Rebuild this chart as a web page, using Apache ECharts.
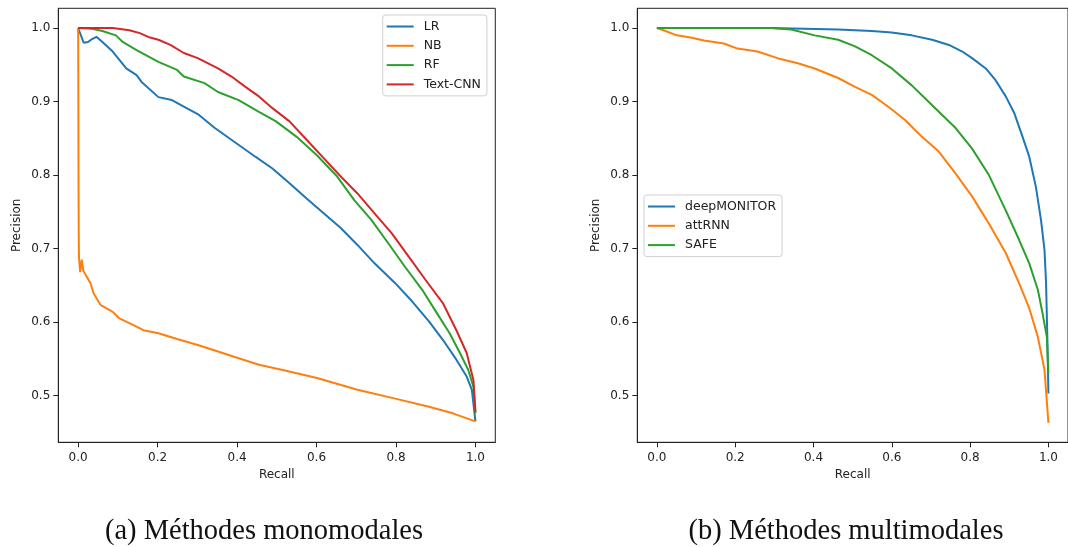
<!DOCTYPE html>
<html>
<head>
<meta charset="utf-8">
<script src="https://cdn.jsdelivr.net/npm/echarts@6/dist/echarts.min.js"></script>
<style>
  html, body { margin: 0; padding: 0; background: #fff; }
  #main { width: 1068px; height: 547px; }
</style>
</head>
<body>
<div id="main"></div>
<script>
// tick labels shared by both panels
var xTicks = [0, 0.2, 0.4, 0.6, 0.8, 1.0];
var yTicks = [0.5, 0.6, 0.7, 0.8, 0.9, 1.0];

// (a) monomodal methods
var lrX = [0, 0.0137, 0.025, 0.035, 0.046, 0.061, 0.087, 0.121, 0.147, 0.159, 0.202, 0.236, 0.266, 0.301, 0.344, 0.399, 0.446, 0.489, 0.532, 0.575, 0.618, 0.661, 0.703, 0.746, 0.798, 0.841, 0.883, 0.918, 0.952, 0.978, 0.991, 1.0];
var lrY = [1.0, 0.980, 0.981, 0.985, 0.988, 0.981, 0.968, 0.945, 0.936, 0.927, 0.906, 0.902, 0.893, 0.883, 0.864, 0.843, 0.825, 0.809, 0.789, 0.768, 0.748, 0.728, 0.705, 0.680, 0.653, 0.628, 0.601, 0.576, 0.549, 0.526, 0.508, 0.465];

var nbX = [0, 0.0005, 0.001, 0.0015, 0.002, 0.0026, 0.005, 0.009, 0.013, 0.018, 0.031, 0.039, 0.057, 0.087, 0.104, 0.147, 0.164, 0.202, 0.249, 0.301, 0.352, 0.404, 0.455, 0.515, 0.601, 0.703, 0.798, 0.883, 0.943, 1.0];
var nbY = [1.0, 0.90, 0.78, 0.72, 0.69, 0.684, 0.668, 0.685, 0.670, 0.671, 0.653, 0.639, 0.623, 0.614, 0.605, 0.594, 0.589, 0.585, 0.577, 0.569, 0.560, 0.551, 0.542, 0.535, 0.524, 0.508, 0.496, 0.485, 0.476, 0.465];

var rfX = [0, 0.035, 0.061, 0.095, 0.112, 0.147, 0.202, 0.249, 0.266, 0.318, 0.352, 0.404, 0.455, 0.498, 0.550, 0.601, 0.652, 0.695, 0.738, 0.781, 0.823, 0.866, 0.901, 0.935, 0.961, 0.982, 0.995, 1.0];
var rfY = [1.0, 0.999, 0.996, 0.990, 0.981, 0.970, 0.954, 0.943, 0.934, 0.925, 0.913, 0.902, 0.886, 0.873, 0.852, 0.827, 0.798, 0.766, 0.739, 0.707, 0.675, 0.644, 0.614, 0.585, 0.558, 0.535, 0.512, 0.476];

var cnnX = [0, 0.087, 0.129, 0.155, 0.181, 0.202, 0.232, 0.266, 0.301, 0.352, 0.386, 0.421, 0.455, 0.489, 0.532, 0.575, 0.618, 0.661, 0.703, 0.746, 0.789, 0.832, 0.875, 0.918, 0.952, 0.978, 0.995, 1.0];
var cnnY = [1.0, 1.0, 0.997, 0.993, 0.987, 0.984, 0.977, 0.966, 0.959, 0.945, 0.934, 0.920, 0.907, 0.891, 0.873, 0.848, 0.823, 0.798, 0.775, 0.748, 0.721, 0.689, 0.657, 0.626, 0.589, 0.558, 0.521, 0.478];

// (b) multimodal methods
var dmX = [0, 0.291, 0.463, 0.549, 0.600, 0.651, 0.703, 0.746, 0.780, 0.805, 0.840, 0.865, 0.891, 0.913, 0.934, 0.951, 0.968, 0.981, 0.990, 0.994, 0.997, 1.0];
var dmY = [1.0, 1.0, 0.998, 0.996, 0.994, 0.990, 0.984, 0.977, 0.968, 0.959, 0.945, 0.929, 0.907, 0.884, 0.852, 0.825, 0.784, 0.739, 0.698, 0.653, 0.585, 0.503];

var attX = [0, 0.017, 0.051, 0.086, 0.120, 0.171, 0.206, 0.257, 0.308, 0.360, 0.403, 0.463, 0.506, 0.549, 0.591, 0.634, 0.677, 0.720, 0.763, 0.805, 0.848, 0.891, 0.925, 0.951, 0.973, 0.990, 1.0];
var attY = [1.0, 0.997, 0.990, 0.987, 0.983, 0.979, 0.972, 0.968, 0.959, 0.952, 0.945, 0.932, 0.920, 0.909, 0.893, 0.875, 0.852, 0.832, 0.802, 0.771, 0.734, 0.694, 0.653, 0.619, 0.580, 0.535, 0.463];

var safeX = [0, 0.291, 0.343, 0.403, 0.463, 0.506, 0.549, 0.600, 0.651, 0.703, 0.763, 0.805, 0.848, 0.891, 0.925, 0.951, 0.973, 0.985, 0.996, 1.0];
var safeY = [1.0, 1.0, 0.998, 0.990, 0.984, 0.975, 0.963, 0.945, 0.922, 0.895, 0.864, 0.836, 0.800, 0.752, 0.712, 0.680, 0.644, 0.612, 0.580, 0.530];

var colors = ['#1f77b4', '#ff7f0e', '#2ca02c', '#d62728'];
var font = 'DejaVu Sans';

function pairs(xs, ys) {
  return xs.map(function (x, i) { return [x, ys[i]]; });
}

function xAxis(idx) {
  return {
    type: 'value', gridIndex: idx, min: -0.05, max: 1.05,
    name: 'Recall', nameLocation: 'middle', nameGap: 25,
    nameTextStyle: { fontFamily: font, fontSize: 12, color: '#222' },
    axisLine: { show: true, onZero: false, lineStyle: { color: '#222', width: 1 } },
    splitLine: { show: false },
    axisTick: { show: true, length: 5, customValues: xTicks, lineStyle: { color: '#222', width: 1 } },
    axisLabel: { customValues: xTicks, margin: 10, fontFamily: font, fontSize: 12, color: '#222',
      formatter: function (v) { return v.toFixed(1); } }
  };
}
function yAxis(idx) {
  return {
    type: 'value', gridIndex: idx, min: 0.4366, max: 1.0268,
    name: 'Precision', nameLocation: 'middle', nameGap: 35, nameRotate: 90,
    nameTextStyle: { fontFamily: font, fontSize: 12, color: '#222' },
    axisLine: { show: true, onZero: false, lineStyle: { color: '#222', width: 1 } },
    splitLine: { show: false },
    axisTick: { show: true, length: 5, customValues: yTicks, lineStyle: { color: '#222', width: 1 } },
    axisLabel: { customValues: yTicks, margin: 8, fontFamily: font, fontSize: 12, color: '#222',
      formatter: function (v) { return v.toFixed(1); } }
  };
}
function line(name, data, color, idx) {
  return {
    name: name, type: 'line', data: data, xAxisIndex: idx, yAxisIndex: idx,
    symbol: 'none', showSymbol: false, smooth: false, animation: false,
    lineStyle: { color: color, width: 2 }, itemStyle: { color: color }
  };
}
function legend(names, left, top) {
  return {
    data: names, orient: 'vertical', left: left, top: top,
    icon: 'rect', itemWidth: 27, itemHeight: 2, itemGap: 6.3,
    padding: [5, 6, 5, 4],
    borderColor: '#d0d0d0', borderWidth: 1, borderRadius: 3,
    backgroundColor: 'rgba(255,255,255,0.8)',
    textStyle: { fontFamily: font, fontSize: 12.5, color: '#222', padding: [0, 0, 0, 5] }
  };
}

var chart = echarts.init(document.getElementById('main'), null, { renderer: 'canvas' });
chart.setOption({
  animation: false,
  backgroundColor: '#fff',
  grid: [
    { left: 58.3, top: 8.3, width: 437, height: 434, show: true, borderColor: '#222', borderWidth: 1, backgroundColor: 'transparent' },
    { left: 637.3, top: 8.3, width: 437, height: 434, show: true, borderColor: '#222', borderWidth: 1, backgroundColor: 'transparent' }
  ],
  xAxis: [xAxis(0), xAxis(1)],
  yAxis: [yAxis(0), yAxis(1)],
  legend: [
    legend(['LR', 'NB', 'RF', 'Text-CNN'], 382.7, 15),
    legend(['deepMONITOR', 'attRNN', 'SAFE'], 644, 195)
  ],
  series: [
    line('LR', pairs(lrX, lrY), colors[0], 0),
    line('NB', pairs(nbX, nbY), colors[1], 0),
    line('RF', pairs(rfX, rfY), colors[2], 0),
    line('Text-CNN', pairs(cnnX, cnnY), colors[3], 0),
    line('deepMONITOR', pairs(dmX, dmY), colors[0], 1),
    line('attRNN', pairs(attX, attY), colors[1], 1),
    line('SAFE', pairs(safeX, safeY), colors[2], 1)
  ],
  graphic: [
    { type: 'text', x: 264, y: 532, style: { text: '(a) Méthodes monomodales', font: '28.5px "Liberation Serif"', fill: '#111', textAlign: 'center', textVerticalAlign: 'middle' } },
    { type: 'text', x: 846, y: 532, style: { text: '(b) Méthodes multimodales', font: '28.5px "Liberation Serif"', fill: '#111', textAlign: 'center', textVerticalAlign: 'middle' } }
  ]
});
</script>
</body>
</html>
